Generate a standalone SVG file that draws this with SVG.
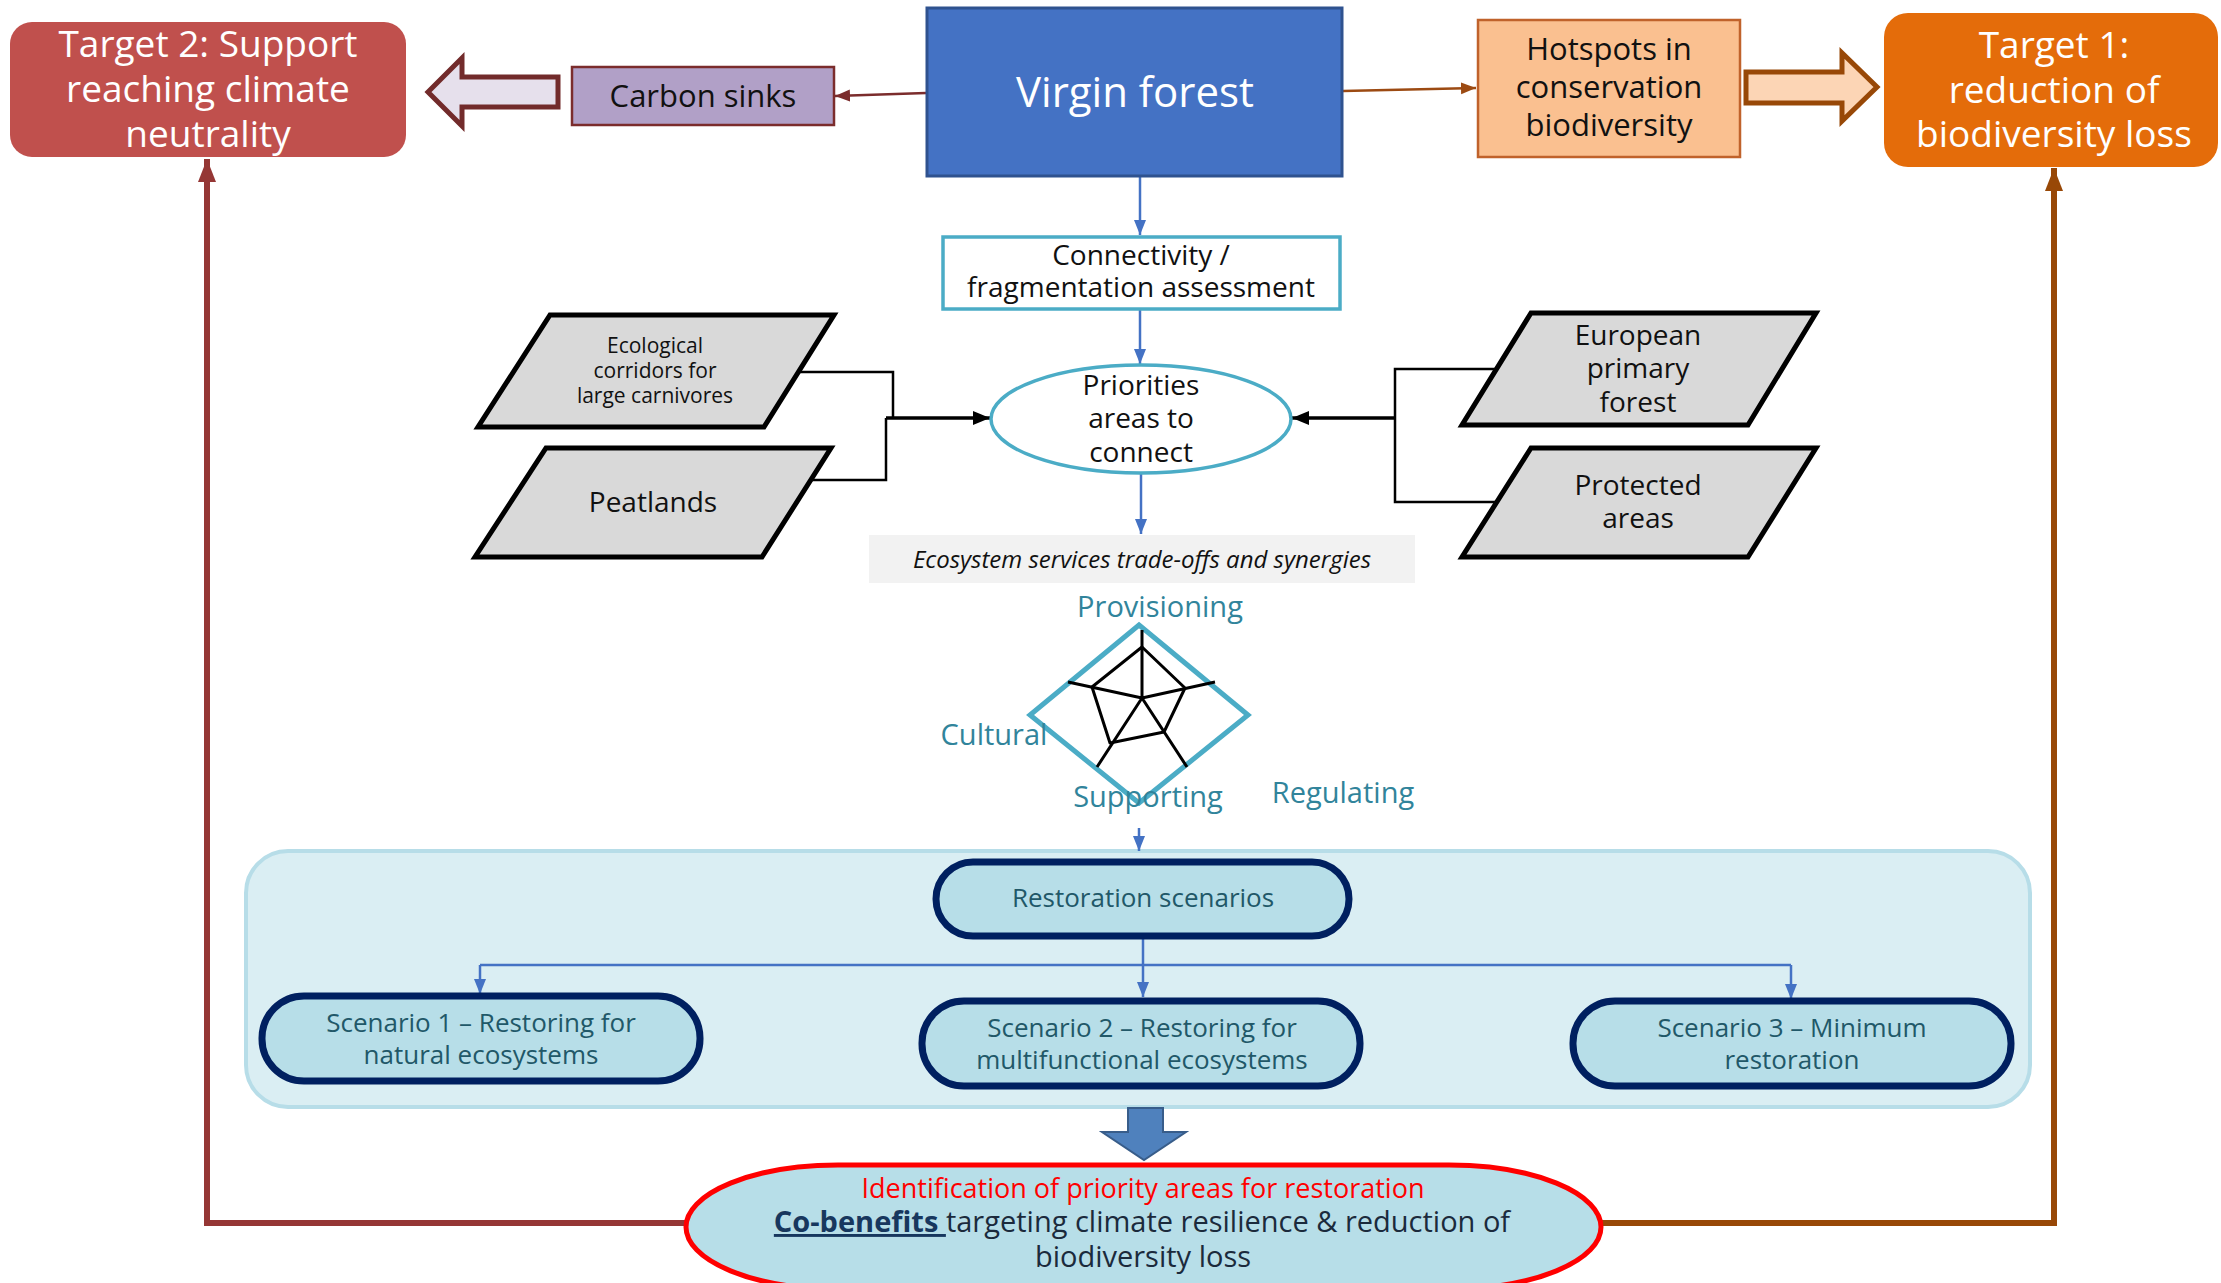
<svg xmlns="http://www.w3.org/2000/svg" width="2221" height="1283" viewBox="0 0 2221 1283">
<defs>
<style>
text{font-family:"Open Sans","DejaVu Sans",sans-serif;text-anchor:middle}
.w37{fill:#fff;font-size:37px}
.blk{fill:#111}
.teal{fill:#31849B;font-size:29px}
.scn{fill:#215868;font-size:26px}
.para{fill:#D9D9D9;stroke:#000;stroke-width:5;stroke-linejoin:miter}
.stad{fill:#B7DEE8;stroke:#002060;stroke-width:7}
.blue{fill:none;stroke:#4472C4;stroke-width:2.5}
.bk{fill:none;stroke:#000;stroke-width:2.5}
</style>
<marker id="mb" markerUnits="userSpaceOnUse" markerWidth="16" markerHeight="16" viewBox="0 0 16 16" refX="15" refY="8" orient="auto"><path d="M0,2 L15,8 L0,14 z" fill="#4472C4"/></marker>
<marker id="mk" markerUnits="userSpaceOnUse" markerWidth="18" markerHeight="18" viewBox="0 0 18 18" refX="17" refY="9" orient="auto"><path d="M0,2 L17,9 L0,16 z" fill="#000"/></marker>
<marker id="mr" markerUnits="userSpaceOnUse" markerWidth="16" markerHeight="16" viewBox="0 0 16 16" refX="15" refY="8" orient="auto"><path d="M0,2 L15,8 L0,14 z" fill="#7B2C2C"/></marker>
<marker id="mo" markerUnits="userSpaceOnUse" markerWidth="16" markerHeight="16" viewBox="0 0 16 16" refX="15" refY="8" orient="auto"><path d="M0,2 L15,8 L0,14 z" fill="#9C4A12"/></marker>
<marker id="mR" markerUnits="userSpaceOnUse" markerWidth="24" markerHeight="24" viewBox="0 0 24 24" refX="23" refY="12" orient="auto"><path d="M0,3 L23,12 L0,21 z" fill="#953735"/></marker>
<marker id="mO" markerUnits="userSpaceOnUse" markerWidth="24" markerHeight="24" viewBox="0 0 24 24" refX="23" refY="12" orient="auto"><path d="M0,3 L23,12 L0,21 z" fill="#984807"/></marker>
</defs>

<g id="container">
<rect x="246" y="851" width="1784" height="256" rx="42" ry="42" fill="#DAEEF3" stroke="#B7DDE8" stroke-width="4"/>
</g>

<g id="connectors">
<line x1="926" y1="93" x2="835" y2="96" stroke="#7B2C2C" stroke-width="2.5" marker-end="url(#mr)"/>
<line x1="1343" y1="91" x2="1476" y2="88" stroke="#9C4A12" stroke-width="2.5" marker-end="url(#mo)"/>
<path class="blue" d="M1140,176 V235" marker-end="url(#mb)"/>
<path class="blue" d="M1140,310 V364" marker-end="url(#mb)"/>
<path class="blue" d="M1141,473 V534" marker-end="url(#mb)"/>
<path class="blue" d="M1139,828 V851" marker-end="url(#mb)"/>
<path class="blue" d="M1143,937 V997" marker-end="url(#mb)"/>
<path class="blue" d="M480,965 H1791"/>
<path class="blue" d="M480,965 V994" marker-end="url(#mb)"/>
<path class="blue" d="M1791,965 V999" marker-end="url(#mb)"/>
<path class="bk" d="M799,372 H893 V418"/>
<path class="bk" d="M812,480 H886 V418"/>
<path fill="none" stroke="#000" stroke-width="3.5" d="M886,418 H990" marker-end="url(#mk)"/>
<path class="bk" d="M1497,369 H1395 V502 H1497"/>
<path fill="none" stroke="#000" stroke-width="3.5" d="M1395,418 H1292" marker-end="url(#mk)"/>
<path fill="none" stroke="#953735" stroke-width="6" d="M686,1223 H207 V159" marker-end="url(#mR)"/>
<path fill="none" stroke="#984807" stroke-width="6" d="M1601,1223 H2054 V168" marker-end="url(#mO)"/>
<polygon points="428,92 462,58 462,77 558,77 558,107 462,107 462,126" fill="#E6E0EC" stroke="#722B2B" stroke-width="5" stroke-linejoin="miter"/>
<polygon points="1746,72 1842,72 1842,53 1877,87 1842,121 1842,103 1746,103" fill="#FCD5B5" stroke="#984807" stroke-width="5" stroke-linejoin="miter"/>
<polygon points="1128,1108 1163,1108 1163,1132 1186,1132 1144,1160 1102,1132 1128,1132" fill="#4F81BD" stroke="#385D8A" stroke-width="2"/>
</g>

<g id="target2">
<rect x="10" y="22" width="396" height="135" rx="22" ry="22" fill="#C0504D"/>
<text class="w37" x="208" y="57">Target 2: Support</text>
<text class="w37" x="208" y="102">reaching climate</text>
<text class="w37" x="208" y="147">neutrality</text>
</g>

<g id="carbon-sinks">
<rect x="572" y="67" width="262" height="58" fill="#B1A0C7" stroke="#7B2C2C" stroke-width="2.5"/>
<text class="blk" x="703" y="107" font-size="31">Carbon sinks</text>
</g>

<g id="virgin-forest">
<rect x="927" y="8" width="415" height="168" fill="#4472C4" stroke="#2F528F" stroke-width="3"/>
<text x="1135" y="107" font-size="42" fill="#fff">Virgin forest</text>
</g>

<g id="hotspots">
<rect x="1478" y="20" width="262" height="137" fill="#FAC090" stroke="#C0622B" stroke-width="2.5"/>
<text class="blk" x="1609" y="60" font-size="31">Hotspots in</text>
<text class="blk" x="1609" y="98" font-size="31">conservation</text>
<text class="blk" x="1609" y="136" font-size="31">biodiversity</text>
</g>

<g id="target1">
<rect x="1884" y="13" width="334" height="154" rx="24" ry="24" fill="#E46C0A"/>
<text class="w37" x="2054" y="58">Target 1:</text>
<text class="w37" x="2054" y="103">reduction of</text>
<text class="w37" x="2054" y="147">biodiversity loss</text>
</g>

<g id="connectivity">
<rect x="943" y="237" width="397" height="72" fill="#fff" stroke="#4BACC6" stroke-width="3.5"/>
<text class="blk" x="1141" y="265" font-size="28">Connectivity /</text>
<text class="blk" x="1141" y="297" font-size="28">fragmentation assessment</text>
</g>

<g id="priorities">
<ellipse cx="1141" cy="419" rx="150" ry="54" fill="#fff" stroke="#4BACC6" stroke-width="3.5"/>
<text class="blk" x="1141" y="395" font-size="28">Priorities</text>
<text class="blk" x="1141" y="428" font-size="28">areas to</text>
<text class="blk" x="1141" y="462" font-size="28">connect</text>
</g>

<g id="corridors">
<polygon class="para" points="550,315 834,315 764,427 478,427"/>
<text class="blk" x="655" y="353" font-size="21">Ecological</text>
<text class="blk" x="655" y="378" font-size="21">corridors for</text>
<text class="blk" x="655" y="403" font-size="21">large carnivores</text>
</g>

<g id="peatlands">
<polygon class="para" points="546,448 831,448 762,557 475,557"/>
<text class="blk" x="653" y="512" font-size="28">Peatlands</text>
</g>

<g id="european-primary-forest">
<polygon class="para" points="1531,313 1816,313 1748,425 1462,425"/>
<text class="blk" x="1638" y="345" font-size="28">European</text>
<text class="blk" x="1638" y="378" font-size="28">primary</text>
<text class="blk" x="1638" y="412" font-size="28">forest</text>
</g>

<g id="protected-areas">
<polygon class="para" points="1531,448 1816,448 1748,557 1462,557"/>
<text class="blk" x="1638" y="495" font-size="28">Protected</text>
<text class="blk" x="1638" y="528" font-size="28">areas</text>
</g>

<g id="ecosystem-services">
<rect x="869" y="535" width="546" height="48" fill="#F2F2F2"/>
<text class="blk" x="1142" y="568" font-size="24" font-style="italic">Ecosystem services trade-offs and synergies</text>
</g>

<g id="radar">
<polygon points="1139,625 1248,715 1139,803 1030,715" fill="none" stroke="#4BACC6" stroke-width="5"/>
<g fill="none" stroke="#000" stroke-width="3" stroke-linejoin="round">
<path d="M1142,698 L1142,630 M1142,698 L1215,682 M1142,698 L1068,682 M1142,698 L1097,767 M1142,698 L1187,767"/>
<polygon points="1142,647 1185,688 1164,732 1110,743 1092,687"/>
</g>
<text class="teal" x="1160" y="617">Provisioning</text>
<text class="teal" x="994" y="745">Cultural</text>
<text class="teal" x="1148" y="807">Supporting</text>
<text class="teal" x="1343" y="803">Regulating</text>
</g>

<g id="restoration-scenarios">
<rect x="936" y="862" width="413" height="74" rx="37" ry="37" class="stad"/>
<text class="scn" x="1143" y="907">Restoration scenarios</text>
</g>

<g id="scenario1">
<rect x="262" y="996" width="438" height="85" rx="42" ry="42" class="stad"/>
<text class="scn" x="481" y="1032">Scenario 1 – Restoring for</text>
<text class="scn" x="481" y="1064">natural ecosystems</text>
</g>

<g id="scenario2">
<rect x="922" y="1001" width="438" height="85" rx="42" ry="42" class="stad"/>
<text class="scn" x="1142" y="1037">Scenario 2 – Restoring for</text>
<text class="scn" x="1142" y="1069">multifunctional ecosystems</text>
</g>

<g id="scenario3">
<rect x="1573" y="1001" width="438" height="85" rx="42" ry="42" class="stad"/>
<text class="scn" x="1792" y="1037">Scenario 3 – Minimum</text>
<text class="scn" x="1792" y="1069">restoration</text>
</g>

<g id="priority-areas-restoration">
<rect x="686" y="1165" width="915" height="124" rx="152" ry="62" fill="#B7DEE8" stroke="#FF0000" stroke-width="5"/>
<text x="1143" y="1198" font-size="27" fill="#FF0000">Identification  of priority areas for restoration</text>
<text x="1142" y="1232" font-size="29" fill="#1B2A3C"><tspan font-weight="bold" fill="#17375E" text-decoration="underline">Co-benefits </tspan>targeting climate resilience &amp; reduction of</text>
<text x="1143" y="1267" font-size="29" fill="#1B2A3C">biodiversity loss</text>
</g>
</svg>
